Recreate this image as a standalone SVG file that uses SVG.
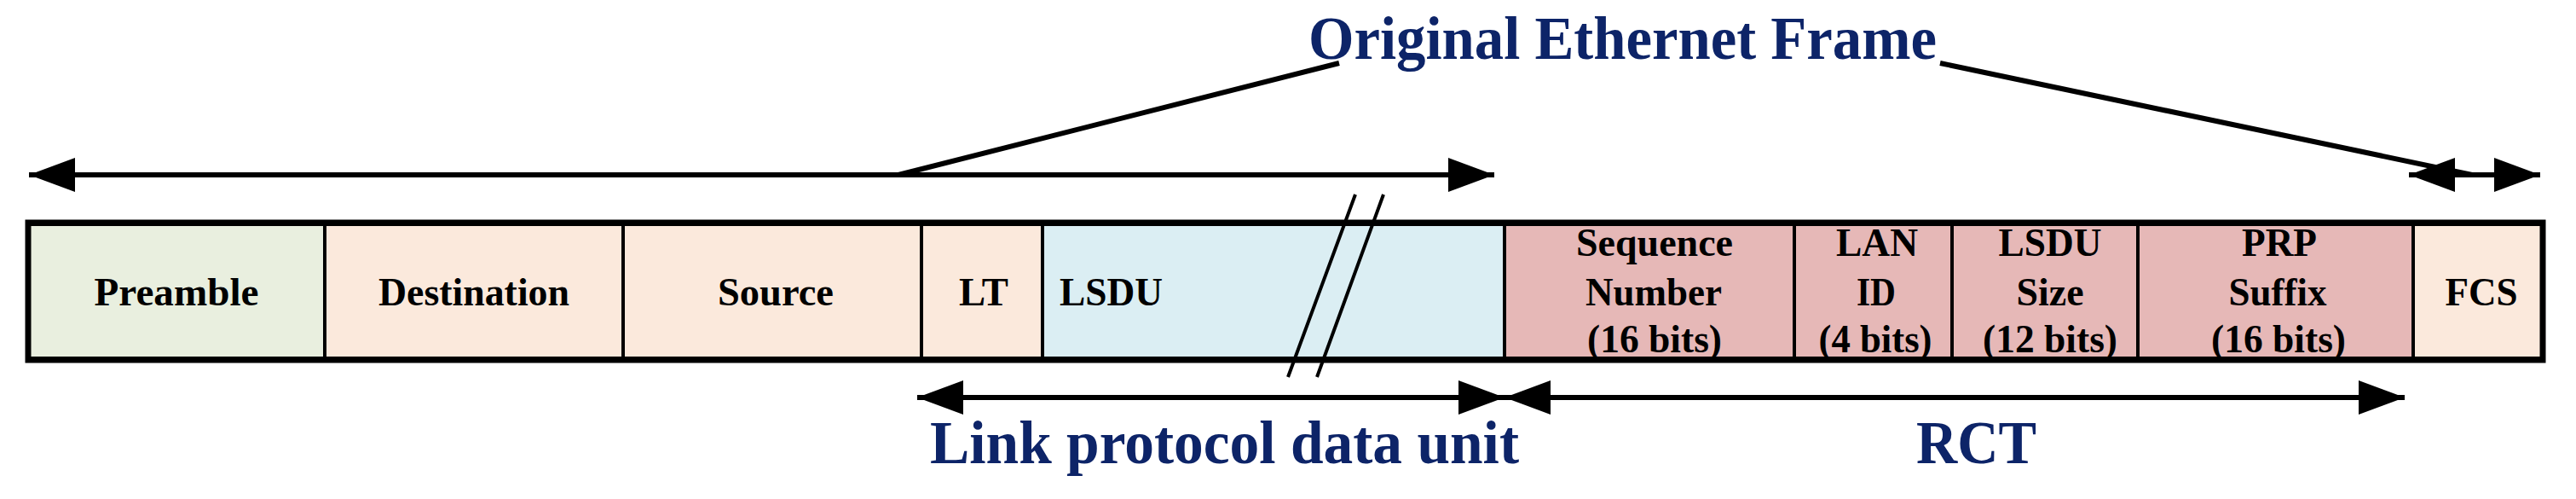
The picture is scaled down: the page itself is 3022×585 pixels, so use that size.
<svg xmlns="http://www.w3.org/2000/svg" width="3022" height="585" viewBox="0 0 3022 585">
<defs>
<marker id="ah" markerUnits="userSpaceOnUse" markerWidth="56" markerHeight="40" refX="54" refY="20" orient="auto-start-reverse"><path d="M0,0 L54,20 L0,40 Z" fill="#000"/></marker>
<style>
.c{stroke:#000;stroke-width:4}
.t{font-family:"Liberation Serif",serif;font-weight:bold;font-size:46px;fill:#000;text-anchor:middle}
.b{font-family:"Liberation Serif",serif;font-weight:bold;font-size:72px;fill:#0d2468}
.a{stroke:#000;stroke-width:6;fill:none}
</style>
</defs>
<rect x="0" y="0" width="3022" height="585" fill="#fff"/>
<g id="preamble"><rect class="c" x="33" y="263" width="348" height="157" fill="#e9efdf"/><text class="t" x="207" y="358" textLength="193" lengthAdjust="spacingAndGlyphs">Preamble</text></g>
<g id="destination"><rect class="c" x="381" y="263" width="350" height="157" fill="#fbe9dc"/><text class="t" x="556" y="358" textLength="224" lengthAdjust="spacingAndGlyphs">Destination</text></g>
<g id="source"><rect class="c" x="731" y="263" width="350" height="157" fill="#fbe9dc"/><text class="t" x="910" y="358" textLength="136" lengthAdjust="spacingAndGlyphs">Source</text></g>
<g id="lt"><rect class="c" x="1081" y="263" width="142" height="157" fill="#fbe9dc"/><text class="t" x="1154" y="358" textLength="58" lengthAdjust="spacingAndGlyphs">LT</text></g>
<g id="lsdu"><rect class="c" x="1223" y="263" width="542" height="157" fill="#dbeef3"/><text class="t" x="1243" y="358" style="text-anchor:start" textLength="121" lengthAdjust="spacingAndGlyphs">LSDU</text></g>
<g id="seq"><rect class="c" x="1765" y="263" width="340" height="157" fill="#e6b8b7"/><text class="t" x="1941" y="300" textLength="184" lengthAdjust="spacingAndGlyphs">Sequence</text><text class="t" x="1940" y="358" textLength="160" lengthAdjust="spacingAndGlyphs">Number</text><text class="t" x="1941" y="413" textLength="158" lengthAdjust="spacingAndGlyphs">(16 bits)</text></g>
<g id="lan"><rect class="c" x="2105" y="263" width="185" height="157" fill="#e6b8b7"/><text class="t" x="2202" y="300" textLength="96" lengthAdjust="spacingAndGlyphs">LAN</text><text class="t" x="2201" y="358" textLength="46" lengthAdjust="spacingAndGlyphs">ID</text><text class="t" x="2200" y="413" textLength="133" lengthAdjust="spacingAndGlyphs">(4 bits)</text></g>
<g id="size"><rect class="c" x="2290" y="263" width="218" height="157" fill="#e6b8b7"/><text class="t" x="2405" y="300" textLength="121" lengthAdjust="spacingAndGlyphs">LSDU</text><text class="t" x="2405" y="358" textLength="79" lengthAdjust="spacingAndGlyphs">Size</text><text class="t" x="2405" y="413" textLength="158" lengthAdjust="spacingAndGlyphs">(12 bits)</text></g>
<g id="prp"><rect class="c" x="2508" y="263" width="323" height="157" fill="#e6b8b7"/><text class="t" x="2674" y="300" textLength="88" lengthAdjust="spacingAndGlyphs">PRP</text><text class="t" x="2672" y="358" textLength="115" lengthAdjust="spacingAndGlyphs">Suffix</text><text class="t" x="2673" y="413" textLength="158" lengthAdjust="spacingAndGlyphs">(16 bits)</text></g>
<g id="fcs"><rect class="c" x="2831" y="263" width="152" height="157" fill="#fbe9dc"/><text class="t" x="2911" y="358" textLength="85" lengthAdjust="spacingAndGlyphs">FCS</text></g>
<rect x="33" y="261" width="2950" height="161" fill="none" stroke="#000" stroke-width="7"/>
<g id="break"><path d="M1590,228 L1511,442 M1623,228 L1545,442" stroke="#000" stroke-width="4" fill="none"/></g>
<g id="connectors">
<line class="a" x1="34" y1="205" x2="1753" y2="205" marker-start="url(#ah)" marker-end="url(#ah)"/>
<line class="a" x1="1054" y1="205" x2="1571" y2="74"/>
<line class="a" x1="2276" y1="74" x2="2900" y2="205"/>
<line class="a" x1="2826" y1="205" x2="2980" y2="205" marker-start="url(#ah)" marker-end="url(#ah)"/>
<line class="a" x1="1076" y1="466" x2="1765" y2="466" marker-start="url(#ah)" marker-end="url(#ah)"/>
<line class="a" x1="1765" y1="466" x2="2821" y2="466" marker-start="url(#ah)" marker-end="url(#ah)"/>
</g>
<text class="b" x="1535" y="69" textLength="737" lengthAdjust="spacingAndGlyphs">Original Ethernet Frame</text>
<text class="b" x="1091" y="543" textLength="691" lengthAdjust="spacingAndGlyphs">Link protocol data unit</text>
<text class="b" x="2248" y="543" textLength="141" lengthAdjust="spacingAndGlyphs">RCT</text>
</svg>
